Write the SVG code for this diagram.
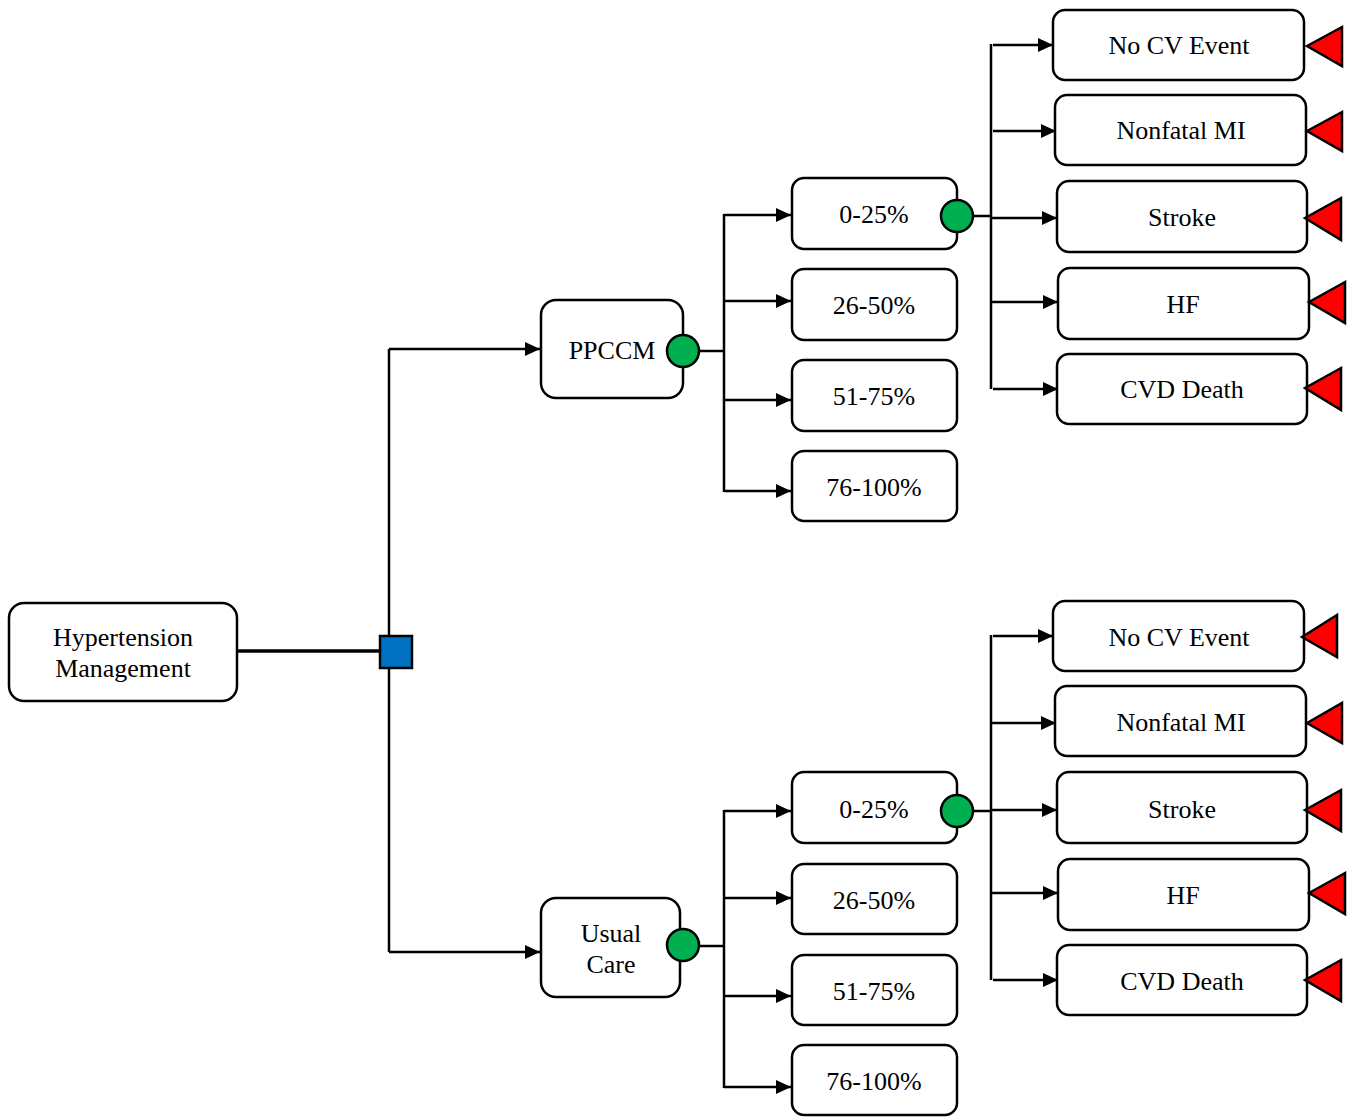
<svg xmlns="http://www.w3.org/2000/svg" width="1351" height="1117" viewBox="0 0 1351 1117">
<defs>
<style>
.box{fill:#fff;stroke:#000;stroke-width:2.5}
.t{font-family:"Liberation Serif","Times New Roman",serif;font-size:26px;fill:#000;text-anchor:middle}
.c{fill:none;stroke:#000;stroke-width:2.5}
.chance{fill:#00B050;stroke:#000;stroke-width:2.5}
.term{fill:#FF0000;stroke:#000;stroke-width:2.5;stroke-linejoin:miter}
.dec{fill:#0070C0;stroke:#000;stroke-width:2.5}
</style>
<marker id="ah" viewBox="0 0 15 14" refX="15" refY="7" markerWidth="15" markerHeight="14" markerUnits="userSpaceOnUse" orient="auto">
<path d="M0,0 L15,7 L0,14 Z" fill="#000"/>
</marker>
</defs>
<rect width="1351" height="1117" fill="#fff"/>

<g id="connectors">
<line class="c" x1="237" y1="651" x2="380" y2="651" style="stroke-width:3.5"/>
<line class="c" x1="389" y1="349" x2="389" y2="952"/>
<path class="c" d="M389,349 H540" marker-end="url(#ah)"/>
<path class="c" d="M389,952 H540" marker-end="url(#ah)"/>

<line class="c" x1="699" y1="351" x2="724" y2="351"/>
<line class="c" x1="724" y1="214" x2="724" y2="492"/>
<path class="c" d="M724,215 H791" marker-end="url(#ah)"/>
<path class="c" d="M724,301 H791" marker-end="url(#ah)"/>
<path class="c" d="M724,400 H791" marker-end="url(#ah)"/>
<path class="c" d="M724,491 H791" marker-end="url(#ah)"/>

<line class="c" x1="699" y1="946" x2="724" y2="946"/>
<line class="c" x1="724" y1="810" x2="724" y2="1088"/>
<path class="c" d="M724,811 H791" marker-end="url(#ah)"/>
<path class="c" d="M724,898 H791" marker-end="url(#ah)"/>
<path class="c" d="M724,996 H791" marker-end="url(#ah)"/>
<path class="c" d="M724,1087 H791" marker-end="url(#ah)"/>

<line class="c" x1="973" y1="216" x2="991" y2="216"/>
<line class="c" x1="991" y1="44" x2="991" y2="389"/>
<path class="c" d="M993,45 H1053" marker-end="url(#ah)"/>
<path class="c" d="M993,131 H1056" marker-end="url(#ah)"/>
<path class="c" d="M991,218 H1057" marker-end="url(#ah)"/>
<path class="c" d="M991,302 H1058" marker-end="url(#ah)"/>
<path class="c" d="M993,389 H1058" marker-end="url(#ah)"/>

<line class="c" x1="973" y1="811" x2="991" y2="811"/>
<line class="c" x1="991" y1="635" x2="991" y2="980"/>
<path class="c" d="M993,636 H1053" marker-end="url(#ah)"/>
<path class="c" d="M991,723 H1056" marker-end="url(#ah)"/>
<path class="c" d="M991,810 H1057" marker-end="url(#ah)"/>
<path class="c" d="M991,893 H1058" marker-end="url(#ah)"/>
<path class="c" d="M993,980 H1058" marker-end="url(#ah)"/>
</g>

<g id="root">
<rect class="box" x="9" y="603" width="228" height="98" rx="15"/>
<text class="t" x="123" y="646">Hypertension</text>
<text class="t" x="123" y="677">Management</text>
</g>
<g id="decision">
<rect class="dec" x="380" y="636" width="32" height="32"/>
</g>

<g id="ppccm">
<rect class="box" x="541" y="300" width="142" height="98" rx="15"/>
<text class="t" x="612" y="359">PPCCM</text>
<circle class="chance" cx="683" cy="351" r="16"/>
</g>
<g id="usualcare">
<rect class="box" x="541" y="898" width="139" height="99" rx="15"/>
<text class="t" x="611" y="942">Usual</text>
<text class="t" x="611" y="973">Care</text>
<circle class="chance" cx="683" cy="945" r="16"/>
</g>

<g id="p1-0-25">
<rect class="box" x="792" y="178" width="165" height="71" rx="12"/>
<text class="t" x="874" y="223">0-25%</text>
<circle class="chance" cx="957" cy="216" r="16"/>
</g>
<g id="p1-26-50">
<rect class="box" x="792" y="269" width="165" height="71" rx="12"/>
<text class="t" x="874" y="314">26-50%</text>
</g>
<g id="p1-51-75">
<rect class="box" x="792" y="360" width="165" height="71" rx="12"/>
<text class="t" x="874" y="405">51-75%</text>
</g>
<g id="p1-76-100">
<rect class="box" x="792" y="451" width="165" height="70" rx="12"/>
<text class="t" x="874" y="496">76-100%</text>
</g>

<g id="u1-0-25">
<rect class="box" x="792" y="772" width="165" height="71" rx="12"/>
<text class="t" x="874" y="818">0-25%</text>
<circle class="chance" cx="957" cy="811" r="16"/>
</g>
<g id="u1-26-50">
<rect class="box" x="792" y="864" width="165" height="70" rx="12"/>
<text class="t" x="874" y="909">26-50%</text>
</g>
<g id="u1-51-75">
<rect class="box" x="792" y="955" width="165" height="70" rx="12"/>
<text class="t" x="874" y="1000">51-75%</text>
</g>
<g id="u1-76-100">
<rect class="box" x="792" y="1045" width="165" height="70" rx="12"/>
<text class="t" x="874" y="1090">76-100%</text>
</g>

<g id="p-nocv">
<rect class="box" x="1053" y="10" width="251" height="70" rx="12"/>
<text class="t" x="1179" y="54">No CV Event</text>
<polygon class="term" points="1307,46 1342,27 1342,66"/>
</g>
<g id="p-mi">
<rect class="box" x="1055" y="95" width="251" height="70" rx="12"/>
<text class="t" x="1181" y="139">Nonfatal MI</text>
<polygon class="term" points="1307,131 1342,112 1342,151"/>
</g>
<g id="p-stroke">
<rect class="box" x="1057" y="181" width="250" height="71" rx="12"/>
<text class="t" x="1182" y="226">Stroke</text>
<polygon class="term" points="1305,218 1341,198 1341,240"/>
</g>
<g id="p-hf">
<rect class="box" x="1058" y="268" width="251" height="71" rx="12"/>
<text class="t" x="1183" y="313">HF</text>
<polygon class="term" points="1309,302 1345,282 1345,323"/>
</g>
<g id="p-cvd">
<rect class="box" x="1057" y="354" width="250" height="70" rx="12"/>
<text class="t" x="1182" y="398">CVD Death</text>
<polygon class="term" points="1305,388 1341,368 1341,410"/>
</g>

<g id="u-nocv">
<rect class="box" x="1053" y="601" width="251" height="70" rx="12"/>
<text class="t" x="1179" y="646">No CV Event</text>
<polygon class="term" points="1302,637 1337,615 1337,657"/>
</g>
<g id="u-mi">
<rect class="box" x="1055" y="686" width="251" height="70" rx="12"/>
<text class="t" x="1181" y="731">Nonfatal MI</text>
<polygon class="term" points="1307,723 1342,703 1342,743"/>
</g>
<g id="u-stroke">
<rect class="box" x="1057" y="772" width="250" height="71" rx="12"/>
<text class="t" x="1182" y="818">Stroke</text>
<polygon class="term" points="1305,810 1341,790 1341,831"/>
</g>
<g id="u-hf">
<rect class="box" x="1058" y="859" width="251" height="71" rx="12"/>
<text class="t" x="1183" y="904">HF</text>
<polygon class="term" points="1309,893 1345,873 1345,914"/>
</g>
<g id="u-cvd">
<rect class="box" x="1057" y="945" width="250" height="70" rx="12"/>
<text class="t" x="1182" y="990">CVD Death</text>
<polygon class="term" points="1305,980 1341,960 1341,1001"/>
</g>
</svg>
